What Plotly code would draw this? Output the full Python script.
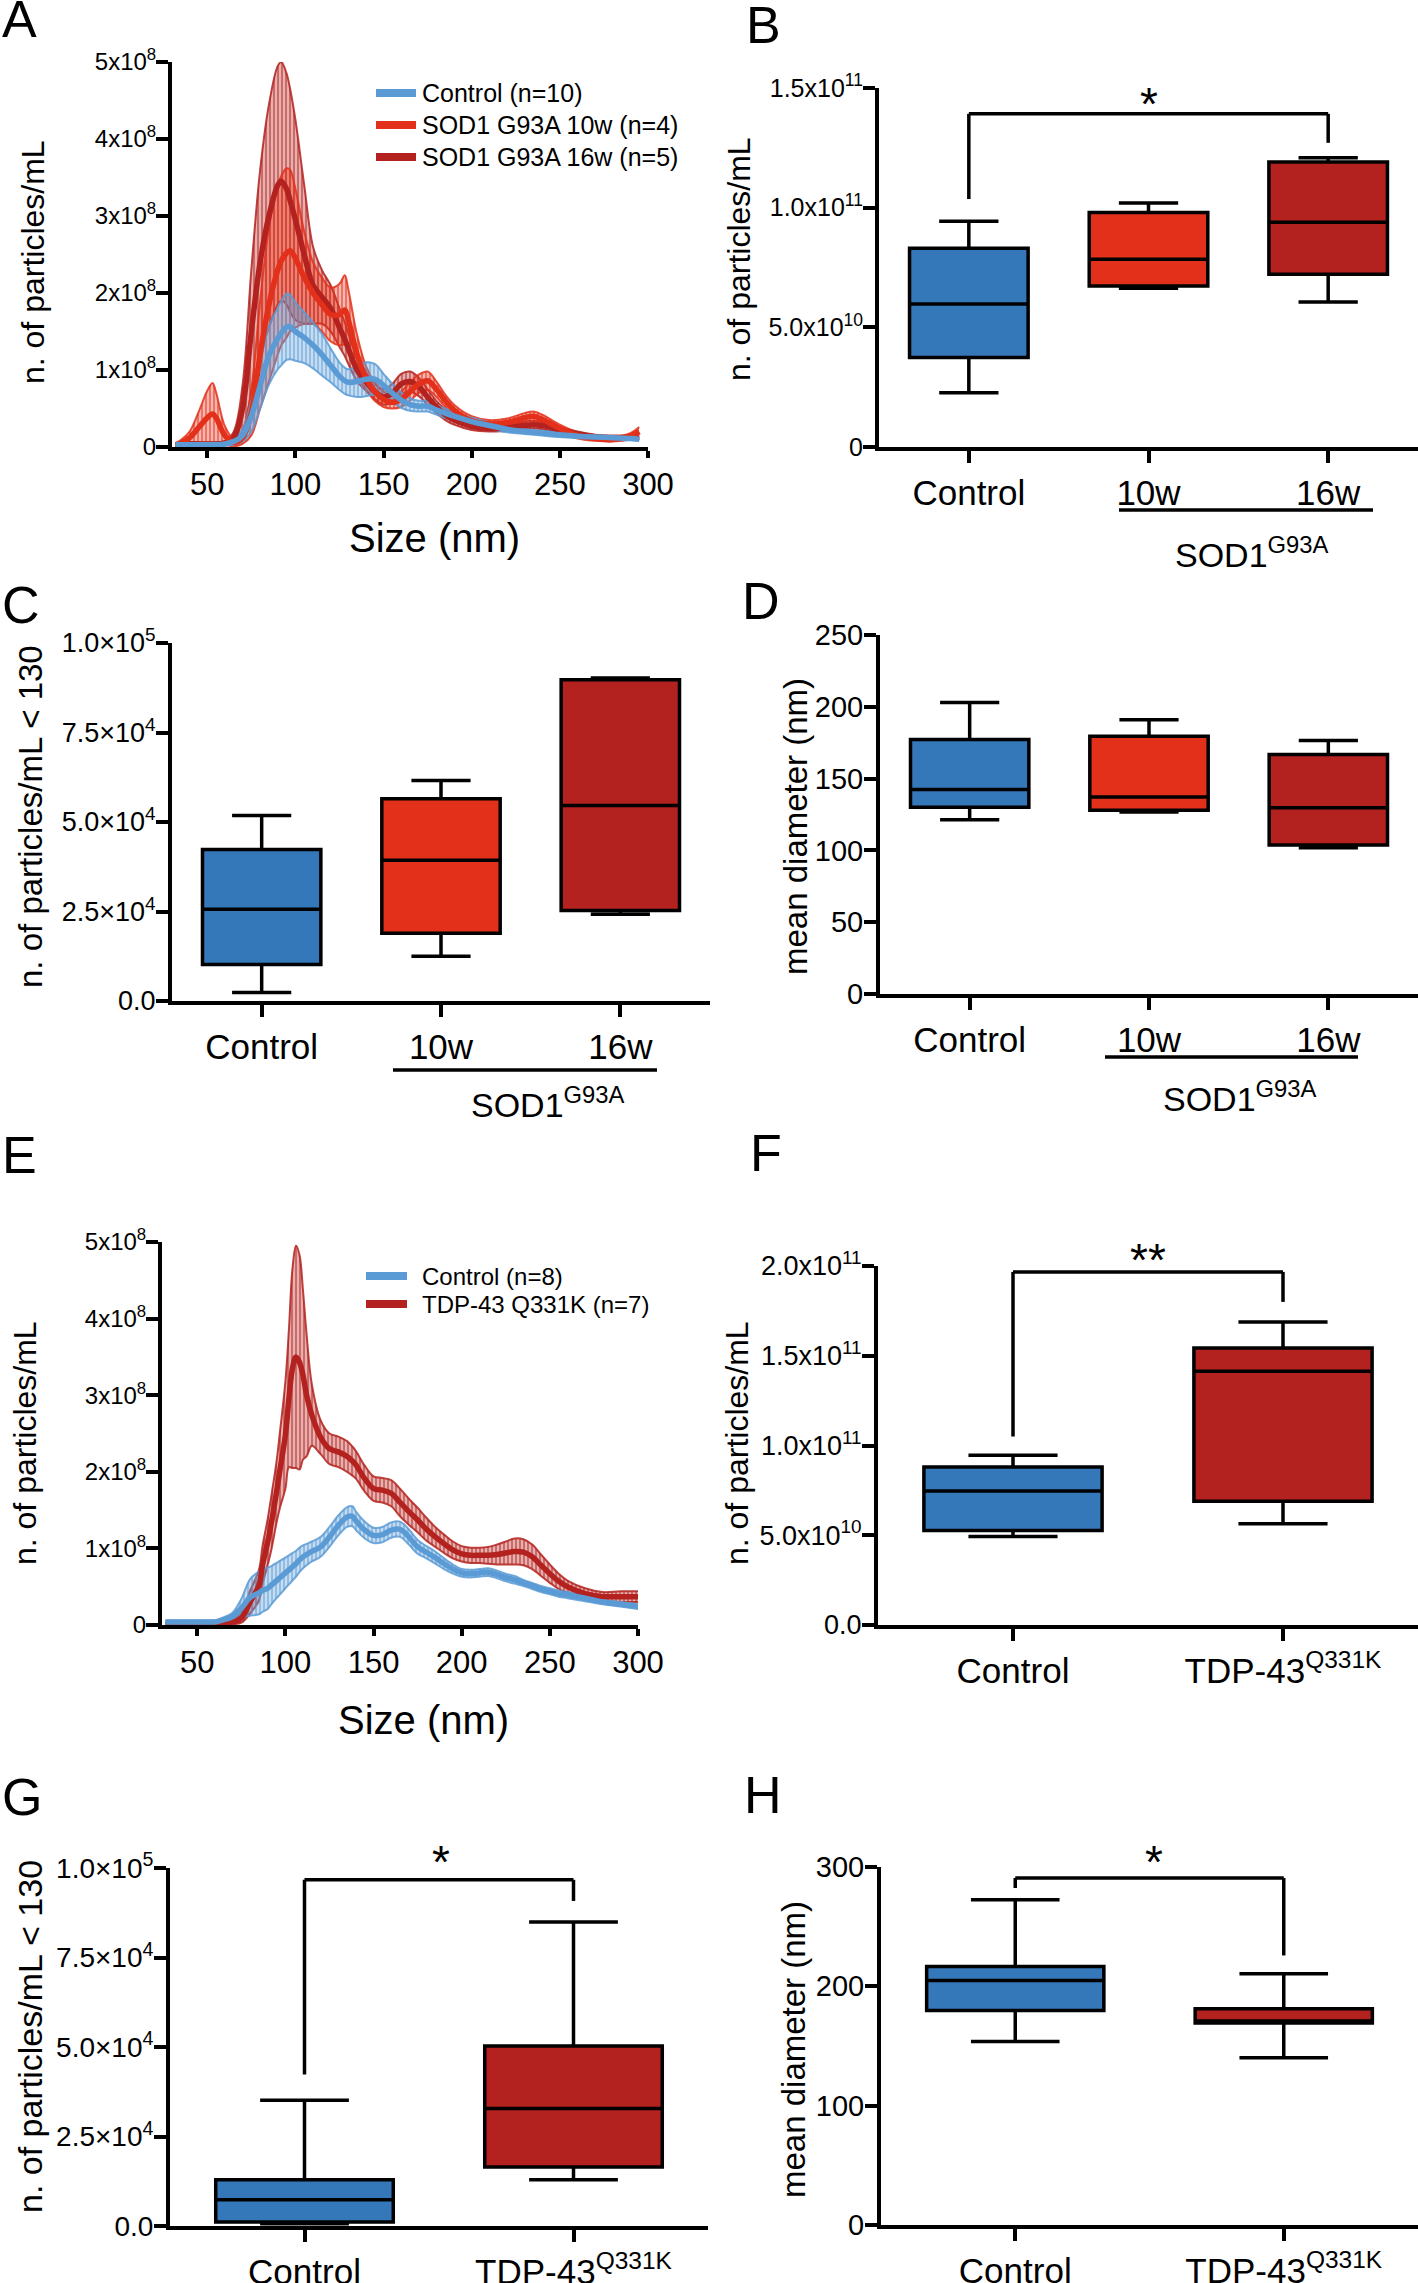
import plotly.graph_objects as go

# ─── Canvas ───
W, H = 1418, 2283
FONT = "Liberation Sans, Arial, sans-serif"
NARROW = "Liberation Sans Narrow, Arial Narrow, Liberation Sans, Arial, sans-serif"
SCALE = 1e8  # curve values below are in units of 1e8 particles/mL

BLUE_BOX = "#3578b9"
ORANGE = "#e3301a"
DARK_RED = "#b3221f"
BLUE_LINE = "#5b9bd5"

# ─── Panel A: size distribution, SOD1 G93A ───
size_a = [32, 35, 40, 45, 50, 53, 55, 60, 65, 70, 75, 80, 85, 90, 92, 95, 97, 100, 105, 110,
          115, 120, 125, 128, 130, 135, 140, 145, 150, 155, 160, 165, 170, 175, 180, 185, 190,
          200, 210, 220, 230, 235, 240, 250, 260, 270, 280, 290, 295]
ctrl_a_mean = [0.03, 0.03, 0.03, 0.03, 0.03, 0.03, 0.03, 0.04, 0.07, 0.15, 0.40, 0.80, 1.19, 1.41,
               1.48, 1.56, 1.56, 1.50, 1.42, 1.32, 1.20, 1.06, 0.92, 0.86, 0.84, 0.85, 0.88, 0.88,
               0.80, 0.70, 0.61, 0.55, 0.53, 0.53, 0.48, 0.44, 0.40, 0.33, 0.28, 0.23, 0.20, 0.19,
               0.18, 0.16, 0.14, 0.13, 0.12, 0.11, 0.10]
ctrl_a_err = [0.02, 0.02, 0.02, 0.02, 0.02, 0.02, 0.02, 0.02, 0.04, 0.08, 0.20, 0.30, 0.38, 0.40,
              0.42, 0.43, 0.42, 0.38, 0.33, 0.30, 0.27, 0.22, 0.18, 0.17, 0.17, 0.20, 0.22, 0.20,
              0.15, 0.12, 0.10, 0.08, 0.07, 0.07, 0.06, 0.06, 0.05, 0.05, 0.04, 0.04, 0.03, 0.03,
              0.03, 0.03, 0.02, 0.02, 0.02, 0.02, 0.02]
w10_mean = [0.03, 0.05, 0.12, 0.25, 0.38, 0.43, 0.38, 0.15, 0.06, 0.12, 0.45, 1.20, 1.85, 2.30,
            2.42, 2.52, 2.55, 2.45, 2.20, 2.00, 1.85, 1.72, 1.72, 1.78, 1.65, 1.20, 0.90, 0.72,
            0.62, 0.58, 0.62, 0.72, 0.82, 0.86, 0.75, 0.60, 0.48, 0.34, 0.30, 0.32, 0.38, 0.40,
            0.36, 0.24, 0.15, 0.11, 0.10, 0.14, 0.20]
w10_err = [0.02, 0.04, 0.08, 0.20, 0.35, 0.40, 0.33, 0.12, 0.05, 0.08, 0.30, 0.70, 1.00, 1.10,
           1.10, 1.10, 1.05, 0.90, 0.60, 0.40, 0.35, 0.35, 0.40, 0.45, 0.40, 0.25, 0.15, 0.12,
           0.10, 0.08, 0.10, 0.12, 0.12, 0.12, 0.10, 0.08, 0.07, 0.06, 0.05, 0.05, 0.06, 0.06,
           0.06, 0.05, 0.04, 0.03, 0.03, 0.04, 0.06]
w16_mean = [0.03, 0.03, 0.04, 0.04, 0.04, 0.04, 0.04, 0.05, 0.12, 0.50, 1.50, 2.40, 3.00, 3.40,
            3.45, 3.35, 3.20, 2.95, 2.50, 2.10, 1.95, 1.80, 1.55, 1.40, 1.28, 1.00, 0.85, 0.72,
            0.65, 0.70, 0.82, 0.85, 0.78, 0.65, 0.52, 0.42, 0.35, 0.27, 0.24, 0.25, 0.28, 0.29,
            0.28, 0.22, 0.17, 0.13, 0.12, 0.12, 0.13]
w16_err = [0.02, 0.02, 0.02, 0.02, 0.02, 0.02, 0.02, 0.03, 0.08, 0.30, 0.80, 1.20, 1.45, 1.55,
           1.55, 1.50, 1.45, 1.30, 0.90, 0.50, 0.35, 0.30, 0.25, 0.22, 0.20, 0.15, 0.12, 0.10,
           0.10, 0.12, 0.13, 0.13, 0.12, 0.10, 0.08, 0.07, 0.06, 0.05, 0.04, 0.04, 0.05, 0.05,
           0.05, 0.04, 0.03, 0.03, 0.03, 0.03, 0.03]

# ─── Panel E: size distribution, TDP-43 Q331K ───
size_e = [32, 35, 40, 45, 50, 55, 60, 65, 70, 75, 80, 85, 87, 90, 92, 95, 97, 100, 102, 104, 106,
          108, 110, 112, 115, 120, 125, 130, 135, 138, 140, 145, 150, 155, 160, 165, 170, 175, 180,
          185, 190, 195, 200, 205, 210, 215, 220, 225, 230, 235, 240, 245, 250, 255, 260, 270,
          280, 290, 300]
ctrl_e_mean = [0.04, 0.04, 0.04, 0.04, 0.04, 0.04, 0.04, 0.07, 0.11, 0.22, 0.36, 0.42, 0.45, 0.48,
               0.52, 0.58, 0.62, 0.68, 0.72, 0.76, 0.80, 0.85, 0.89, 0.92, 0.96, 1.02, 1.15, 1.30,
               1.41, 1.42, 1.36, 1.24, 1.17, 1.18, 1.24, 1.25, 1.15, 1.02, 0.95, 0.88, 0.80, 0.73,
               0.68, 0.67, 0.68, 0.69, 0.66, 0.62, 0.59, 0.55, 0.51, 0.47, 0.44, 0.41, 0.39, 0.35,
               0.30, 0.27, 0.24]
ctrl_e_err = [0.02, 0.02, 0.02, 0.02, 0.02, 0.02, 0.02, 0.03, 0.05, 0.12, 0.24, 0.28, 0.28, 0.27,
              0.25, 0.23, 0.22, 0.20, 0.19, 0.18, 0.17, 0.16, 0.15, 0.14, 0.13, 0.13, 0.13, 0.13,
              0.13, 0.13, 0.12, 0.11, 0.10, 0.10, 0.10, 0.10, 0.10, 0.09, 0.08, 0.08, 0.07, 0.06,
              0.05, 0.05, 0.05, 0.05, 0.05, 0.05, 0.05, 0.04, 0.04, 0.04, 0.04, 0.04, 0.04, 0.04,
              0.03, 0.03, 0.03]
tdp_e_mean = [0.02, 0.02, 0.02, 0.02, 0.02, 0.02, 0.02, 0.03, 0.04, 0.09, 0.30, 0.52, 0.78, 1.09,
              1.33, 1.74, 2.04, 2.48, 2.96, 3.35, 3.50, 3.43, 3.26, 3.00, 2.74, 2.45, 2.30, 2.26,
              2.20, 2.14, 2.09, 1.91, 1.78, 1.76, 1.72, 1.60, 1.48, 1.37, 1.25, 1.15, 1.06, 0.98,
              0.93, 0.91, 0.91, 0.91, 0.92, 0.94, 0.96, 0.95, 0.89, 0.78, 0.67, 0.57, 0.50, 0.41,
              0.37, 0.37, 0.37]
tdp_e_err = [0.01, 0.01, 0.01, 0.01, 0.01, 0.01, 0.01, 0.02, 0.03, 0.06, 0.15, 0.20, 0.25, 0.30,
             0.35, 0.40, 0.50, 0.70, 0.90, 1.30, 1.45, 1.40, 1.10, 0.80, 0.40, 0.22, 0.20, 0.20,
             0.20, 0.19, 0.18, 0.17, 0.16, 0.16, 0.17, 0.18, 0.17, 0.16, 0.15, 0.13, 0.12, 0.11,
             0.10, 0.10, 0.10, 0.11, 0.13, 0.15, 0.17, 0.17, 0.16, 0.14, 0.12, 0.10, 0.08, 0.07,
             0.06, 0.07, 0.07]

# ─── Box plots (SOD1 G93A) ───
sod_groups = ["Control", "10w", "16w"]
sod_colors = [BLUE_BOX, ORANGE, DARK_RED]

b_low = [2.27e10, 6.63e10, 6.06e10]
b_q1 = [3.74e10, 6.73e10, 7.22e10]
b_med = [5.98e10, 7.84e10, 9.39e10]
b_q3 = [8.30e10, 9.80e10, 1.191e11]
b_high = [9.43e10, 1.019e11, 1.209e11]
b_bracket = [1.036e11, 1.392e11, 1.271e11]  # left end, bar, right end

c_low = [2.4e3, 1.25e4, 2.42e4]
c_q1 = [1.02e4, 1.89e4, 2.53e4]
c_med = [2.56e4, 3.93e4, 5.46e4]
c_q3 = [4.23e4, 5.65e4, 8.97e4]
c_high = [5.18e4, 6.16e4, 9.02e4]

d_low = [121.3, 126.7, 101.8]
d_q1 = [130.0, 128.0, 103.8]
d_med = [142.4, 137.2, 129.7]
d_q3 = [177.3, 179.5, 166.8]
d_high = [203.0, 191.0, 176.5]

# ─── Box plots (TDP-43 Q331K) ───
tdp_groups = ["Control", "TDP-43<sup>Q331K</sup>"]
tdp_colors = [BLUE_BOX, DARK_RED]

f_low = [4.93e10, 5.64e10]
f_q1 = [5.26e10, 6.90e10]
f_med = [7.47e10, 1.414e11]
f_q3 = [8.80e10, 1.543e11]
f_high = [9.46e10, 1.688e11]
f_bracket = [1.05e11, 1.967e11, 1.80e11]

g_low = [650, 1.29e4]
g_q1 = [1.1e3, 1.65e4]
g_med = [7.36e3, 3.28e4]
g_q3 = [1.29e4, 5.03e4]
g_high = [3.51e4, 8.49e4]
g_bracket = [4.23e4, 9.67e4, 9.08e4]

h_low = [153.8, 140.1]
h_q1 = [179.8, 169.2]
h_med = [204.9, 171.0]
h_q3 = [216.7, 181.2]
h_high = [272.6, 210.5]
h_bracket = [282.4, 290.8, 225.9]


def px(x):
    return x / W


def py(y):
    return 1 - y / H


def dom_x(a, b):
    return [px(a), px(b)]


def dom_y(top, bottom):
    return [py(bottom), py(top)]


def rgba(hex_color, a):
    h = hex_color.lstrip("#")
    r, g, b = int(h[0:2], 16), int(h[2:4], 16), int(h[4:6], 16)
    return f"rgba({r},{g},{b},{a})"


fig = go.Figure()


# ─── Helpers ───
def add_band(xs, mean, err, color, xa, ya):
    lower = [(m - e) * SCALE for m, e in zip(mean, err)]
    upper = [(m + e) * SCALE for m, e in zip(mean, err)]
    fig.add_trace(go.Scatter(
        x=xs, y=lower, mode="lines", xaxis=xa, yaxis=ya,
        line=dict(color=rgba(color, 0.85), width=2, shape="spline"),
        showlegend=False, hoverinfo="skip",
    ))
    fig.add_trace(go.Scatter(
        x=xs, y=upper, mode="lines", xaxis=xa, yaxis=ya,
        line=dict(color=rgba(color, 0.85), width=2, shape="spline"),
        fill="tonexty",
        fillpattern=dict(shape="|", fgcolor=color, bgcolor=rgba(color, 0.35),
                         size=4, solidity=0.5),
        showlegend=False, hoverinfo="skip",
    ))


def add_mean(xs, mean, color, name, xa, ya):
    fig.add_trace(go.Scatter(
        x=xs, y=[m * SCALE for m in mean], mode="lines", name=name,
        xaxis=xa, yaxis=ya, line=dict(color=color, width=5.5, shape="spline"),
        showlegend=False,
    ))


def add_boxes(groups, colors, low, q1, med, q3, high, xa, ya):
    for i, g in enumerate(groups):
        fig.add_trace(go.Box(
            x=[g], lowerfence=[low[i]], q1=[q1[i]], median=[med[i]],
            q3=[q3[i]], upperfence=[high[i]],
            fillcolor=colors[i], line=dict(color="black", width=3.5),
            width=0.66, whiskerwidth=0.5, boxpoints=False,
            xaxis=xa, yaxis=ya, showlegend=False,
        ))


def add_bracket(x0, x1, vals, xa, ya):
    left, bar, right = vals
    for (ax0, ay0, ax1, ay1) in [(x0, left, x0, bar), (x0, bar, x1, bar), (x1, bar, x1, right)]:
        fig.add_shape(type="line", x0=ax0, y0=ay0, x1=ax1, y1=ay1, xref=xa, yref=ya,
                      line=dict(color="black", width=3.5))


# ─── Curves A ───
add_band(size_a, w16_mean, w16_err, DARK_RED, "x", "y")
add_band(size_a, w10_mean, w10_err, ORANGE, "x", "y")
add_band(size_a, ctrl_a_mean, ctrl_a_err, BLUE_LINE, "x", "y")
add_mean(size_a, w16_mean, DARK_RED, "SOD1 G93A 16w (n=5)", "x", "y")
add_mean(size_a, w10_mean, ORANGE, "SOD1 G93A 10w (n=4)", "x", "y")
add_mean(size_a, ctrl_a_mean, BLUE_LINE, "Control (n=10)", "x", "y")

# ─── Curves E ───
add_band(size_e, tdp_e_mean, tdp_e_err, DARK_RED, "x5", "y5")
add_band(size_e, ctrl_e_mean, ctrl_e_err, BLUE_LINE, "x5", "y5")
add_mean(size_e, tdp_e_mean, DARK_RED, "TDP-43 Q331K (n=7)", "x5", "y5")
add_mean(size_e, ctrl_e_mean, BLUE_LINE, "Control (n=8)", "x5", "y5")

# ─── Boxes ───
add_boxes(sod_groups, sod_colors, b_low, b_q1, b_med, b_q3, b_high, "x2", "y2")
add_boxes(sod_groups, sod_colors, c_low, c_q1, c_med, c_q3, c_high, "x3", "y3")
add_boxes(sod_groups, sod_colors, d_low, d_q1, d_med, d_q3, d_high, "x4", "y4")
add_boxes(tdp_groups, tdp_colors, f_low, f_q1, f_med, f_q3, f_high, "x6", "y6")
add_boxes(tdp_groups, tdp_colors, g_low, g_q1, g_med, g_q3, g_high, "x7", "y7")
add_boxes(tdp_groups, tdp_colors, h_low, h_q1, h_med, h_q3, h_high, "x8", "y8")

add_bracket(0, 2, b_bracket, "x2", "y2")
add_bracket(0, 1, f_bracket, "x6", "y6")
add_bracket(0, 1, g_bracket, "x7", "y7")
add_bracket(0, 1, h_bracket, "x8", "y8")


# ─── Axes ───
def ax(**kw):
    d = dict(showline=True, linecolor="black", linewidth=4, ticks="outside",
             ticklen=12, tickwidth=3.5, tickcolor="black", showgrid=False,
             zeroline=False, fixedrange=True, automargin=False)
    d.update(kw)
    return d


def yfont(size):
    return dict(family=NARROW, size=size, color="black")


def xfont(size):
    return dict(family=FONT, size=size, color="black")


curve_yticks = [0, 1e8, 2e8, 3e8, 4e8, 5e8]
curve_ytext = ["0"] + [f"{k}x10<sup>8</sup>" for k in range(1, 6)]
size_ticks = [50, 100, 150, 200, 250, 300]
small_ticks = [0, 2.5e4, 5e4, 7.5e4, 1e5]
small_text = ["0.0", "2.5×10<sup>4</sup>", "5.0×10<sup>4</sup>", "7.5×10<sup>4</sup>",
              "1.0×10<sup>5</sup>"]
STAND = -5

layout_axes = dict(
    # A
    xaxis=ax(domain=dom_x(172, 648), range=[30, 300], anchor="y", tickvals=size_ticks,
             ticklen=7, tickfont=xfont(31)),
    yaxis=ax(domain=dom_y(62, 447), range=[0, 5e8], anchor="x", tickvals=curve_yticks,
             ticktext=curve_ytext, tickfont=yfont(24), ticklabelstandoff=STAND),
    # B
    xaxis2=ax(domain=dom_x(879, 1418), range=[-0.5, 2.5], anchor="y2", type="category",
              categoryarray=sod_groups, tickfont=xfont(35)),
    yaxis2=ax(domain=dom_y(88, 447), range=[0, 1.5e11], anchor="x2",
              tickvals=[0, 5e10, 1e11, 1.5e11],
              ticktext=["0", "5.0x10<sup>10</sup>", "1.0x10<sup>11</sup>", "1.5x10<sup>11</sup>"],
              tickfont=yfont(25), ticklabelstandoff=STAND),
    # C
    xaxis3=ax(domain=dom_x(172, 710), range=[-0.5, 2.5], anchor="y3", type="category",
              categoryarray=sod_groups, tickfont=xfont(35)),
    yaxis3=ax(domain=dom_y(643, 1001), range=[0, 1e5], anchor="x3",
              tickvals=small_ticks, ticktext=small_text,
              tickfont=yfont(27), ticklabelstandoff=STAND),
    # D
    xaxis4=ax(domain=dom_x(880, 1418), range=[-0.5, 2.5], anchor="y4", type="category",
              categoryarray=sod_groups, tickfont=xfont(35)),
    yaxis4=ax(domain=dom_y(635, 994), range=[0, 250], anchor="x4",
              tickvals=[0, 50, 100, 150, 200, 250],
              tickfont=yfont(29), ticklabelstandoff=STAND),
    # E
    xaxis5=ax(domain=dom_x(162, 638), range=[30, 300], anchor="y5", tickvals=size_ticks,
              ticklen=7, tickfont=xfont(31)),
    yaxis5=ax(domain=dom_y(1242, 1625), range=[0, 5e8], anchor="x5", tickvals=curve_yticks,
              ticktext=curve_ytext, tickfont=yfont(24), ticklabelstandoff=STAND),
    # F
    xaxis6=ax(domain=dom_x(878, 1418), range=[-0.5, 1.5], anchor="y6", type="category",
              categoryarray=tdp_groups, tickfont=xfont(35)),
    yaxis6=ax(domain=dom_y(1266, 1625), range=[0, 2e11], anchor="x6",
              tickvals=[0, 5e10, 1e11, 1.5e11, 2e11],
              ticktext=["0.0", "5.0x10<sup>10</sup>", "1.0x10<sup>11</sup>", "1.5x10<sup>11</sup>",
                        "2.0x10<sup>11</sup>"],
              tickfont=yfont(27), ticklabelstandoff=STAND),
    # G
    xaxis7=ax(domain=dom_x(170, 708), range=[-0.5, 1.5], anchor="y7", type="category",
              categoryarray=tdp_groups, tickfont=xfont(35)),
    yaxis7=ax(domain=dom_y(1868, 2226), range=[0, 1e5], anchor="x7",
              tickvals=small_ticks, ticktext=small_text,
              tickfont=yfont(28), ticklabelstandoff=STAND),
    # H
    xaxis8=ax(domain=dom_x(881, 1418), range=[-0.5, 1.5], anchor="y8", type="category",
              categoryarray=tdp_groups, tickfont=xfont(35)),
    yaxis8=ax(domain=dom_y(1867, 2225), range=[0, 300], anchor="x8",
              tickvals=[0, 100, 200, 300],
              tickfont=yfont(29), ticklabelstandoff=STAND),
)

# ─── Annotations ───
ann = []


def text(x, y, s, size, angle=0, xanchor="center", yanchor="middle", family=FONT):
    ann.append(dict(x=px(x), y=py(y), xref="paper", yref="paper", text=s, showarrow=False,
                    textangle=angle, xanchor=xanchor, yanchor=yanchor,
                    font=dict(family=family, size=size, color="black")))


# panel letters
for letter, lx, ly in [("A", 0, -12), ("B", 744, -6), ("C", 0, 574), ("D", 740, 570),
                       ("E", 0, 1124), ("F", 748, 1122), ("G", 0, 1766), ("H", 742, 1764)]:
    text(lx, ly, letter, 52, xanchor="left", yanchor="top")

# y titles
text(33, 262, "n. of particles/mL", 32, angle=-90)
text(739, 259, "n. of particles/mL", 32, angle=-90)
text(30, 817, "n. of particles/mL &lt; 130", 33, angle=-90)
text(795, 827, "mean diameter (nm)", 33, angle=-90)
text(25, 1443, "n. of particles/mL", 32, angle=-90)
text(737, 1443, "n. of particles/mL", 32, angle=-90)
text(30, 2037, "n. of particles/mL &lt; 130", 34, angle=-90)
text(793, 2050, "mean diameter (nm)", 33, angle=-90)

# x titles
text(434, 538, "Size (nm)", 40)
text(424, 1720, "Size (nm)", 40)

# significance (asterisk glyph sits high in its line box)
for sx, sy, s in [(1149, 104, "*"), (1148, 1260, "**"), (441, 1862, "*"), (1154, 1862, "*")]:
    text(sx, sy, s, 46)

# SOD1 group labels
for gx, gy in [(1252, 552), (548, 1102), (1240, 1096)]:
    text(gx, gy, "SOD1<sup>G93A</sup>", 34)

# legends
legend_a = [("Control (n=10)", BLUE_LINE, 93), ("SOD1 G93A 10w (n=4)", ORANGE, 125),
            ("SOD1 G93A 16w (n=5)", DARK_RED, 157)]
legend_e = [("Control (n=8)", BLUE_LINE, 1276), ("TDP-43 Q331K (n=7)", DARK_RED, 1304)]
shapes = []
for lab, col, ly in legend_a:
    shapes.append(dict(type="line", xref="paper", yref="paper", x0=px(376), x1=px(416),
                       y0=py(ly), y1=py(ly), line=dict(color=col, width=8)))
    text(420, ly, lab, 25, xanchor="left")
for lab, col, ly in legend_e:
    shapes.append(dict(type="line", xref="paper", yref="paper", x0=px(366), x1=px(407),
                       y0=py(ly), y1=py(ly), line=dict(color=col, width=8)))
    text(420, ly, lab, 24, xanchor="left")

# group lines under 10w / 16w
for x0, x1, ly in [(1119, 1373, 510), (393, 657, 1070), (1105, 1358, 1057)]:
    shapes.append(dict(type="line", xref="paper", yref="paper", x0=px(x0), x1=px(x1),
                       y0=py(ly), y1=py(ly), line=dict(color="black", width=3.5)))

fig.update_layout(
    width=W, height=H,
    margin=dict(l=0, r=0, t=0, b=0, autoexpand=False),
    paper_bgcolor="white", plot_bgcolor="white",
    font=dict(family=FONT, color="black"),
    showlegend=False,
    boxmode="overlay",
    annotations=ann,
    **layout_axes,
)
for s in shapes:
    fig.add_shape(**s)

# pin the graph to the page corner so the body margin adds no scrollbars
PIN = ("var gd=document.getElementById('{plot_id}');"
       "gd.style.position='absolute';gd.style.left='0px';gd.style.top='0px';"
       "document.body.style.margin='0px';"
       "document.documentElement.style.overflow='hidden';")
fig.write_html("out.html", post_script=PIN, config={"displayModeBar": False})
